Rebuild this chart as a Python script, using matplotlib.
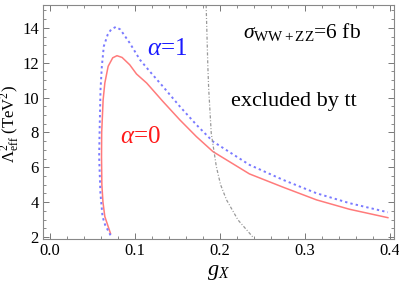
import numpy as np
from matplotlib import pyplot as plt
from matplotlib.ticker import MultipleLocator

plt.rcParams['font.family'] = ['Liberation Serif', 'DejaVu Serif']
plt.rcParams['mathtext.fontset'] = 'custom'
plt.rcParams['mathtext.rm'] = 'Liberation Serif'
plt.rcParams['mathtext.it'] = 'Liberation Serif:italic'

# alpha = 0 curve (red, solid)
g_a0 = [0.0714, 0.0647, 0.0625, 0.0612, 0.0608, 0.061, 0.0627, 0.0647, 0.0686, 0.074, 0.079, 0.085,
        0.094, 0.102, 0.114, 0.133, 0.153, 0.1725, 0.192, 0.235, 0.2745, 0.314, 0.353, 0.398]
lam_a0 = [2.2, 3.17, 4.0, 5.0, 6.6, 8.0, 9.87, 10.83, 11.79, 12.28, 12.4, 12.3,
          11.88, 11.35, 10.83, 9.78, 8.72, 7.76, 6.9, 5.62, 4.86, 4.13, 3.59, 3.11]

# alpha = 1 curve (blue, dotted)
g_a1 = [0.0714, 0.065, 0.062, 0.0595, 0.058, 0.0585, 0.0596, 0.0612, 0.0635, 0.068, 0.072, 0.0776,
        0.083, 0.094, 0.106, 0.1176, 0.133, 0.153, 0.1725, 0.192, 0.235, 0.2745, 0.314, 0.353, 0.398]
lam_a1 = [2.1, 2.7, 3.17, 4.5, 6.6, 8.0, 10.45, 11.8, 12.94, 13.6, 13.9, 14.05,
          13.9, 13.13, 12.17, 11.5, 10.64, 9.49, 8.44, 7.48, 6.14, 5.28, 4.51, 3.94, 3.42]

# tt exclusion boundary (gray, dash-dot)
g_tt = [0.184, 0.186, 0.187, 0.190, 0.196, 0.201, 0.208, 0.2215, 0.239]
lam_tt = [15.3, 11.8, 10.5, 7.96, 6.04, 5.0, 4.13, 2.98, 2.0]

x_ticks = [0.0, 0.1, 0.2, 0.3, 0.4]
y_ticks = [2, 4, 6, 8, 10, 12, 14]

fig = plt.figure(figsize=(3.99, 2.85), dpi=100)
ax = fig.add_axes([0.108, 0.161, 0.879, 0.821])

ax.plot(g_a0, lam_a0, color='#ff7b7b', lw=1.1)
ax.plot(g_a1, lam_a1, color='#7a7aff', lw=1.4, ls=(0, (1.2, 1.6)))
ax.plot(g_tt, lam_tt, color='#999999', lw=0.9, ls=(0, (2.5, 1.5, 0.8, 1.5)))

ax.set_xlim(-0.008, 0.405)
ax.set_ylim(1.88, 15.3)
ax.set_xticks(x_ticks)
ax.set_xticklabels(['%.1f' % t for t in x_ticks])
ax.set_yticks(y_ticks)
ax.xaxis.set_minor_locator(MultipleLocator(0.02))
ax.yaxis.set_minor_locator(MultipleLocator(0.5))
ax.tick_params(which='both', direction='in', top=True, right=True, color='#777777',
               labelsize=12, pad=3)
ax.tick_params(which='major', length=4.5, width=0.7)
ax.tick_params(which='minor', length=2.5, width=0.6)
for s in ax.spines.values():
    s.set_color('#888888')
    s.set_linewidth(0.8)

ax.set_xlabel(r'$g_X$', fontsize=16, labelpad=3)
ax.set_ylabel(r'$\Lambda^2_{\mathrm{eff}}$ (TeV$^2$)', fontsize=12)
ax.yaxis.set_label_coords(-0.062, 0.49)

ax.text(0.114, 12.46, r'$\alpha$=1', color='#1a1aff', fontsize=18)
ax.text(0.082, 7.4, r'$\alpha$=0', color='#ff1a1a', fontsize=18)
ax.text(0.2965, 13.4, r'$\sigma_{\mathrm{WW+ZZ}}$=6 fb', fontsize=15.5, ha='center')
ax.text(0.287, 9.53, 'excluded by tt', fontsize=16, ha='center')

fig.savefig('out.png', dpi=100)
